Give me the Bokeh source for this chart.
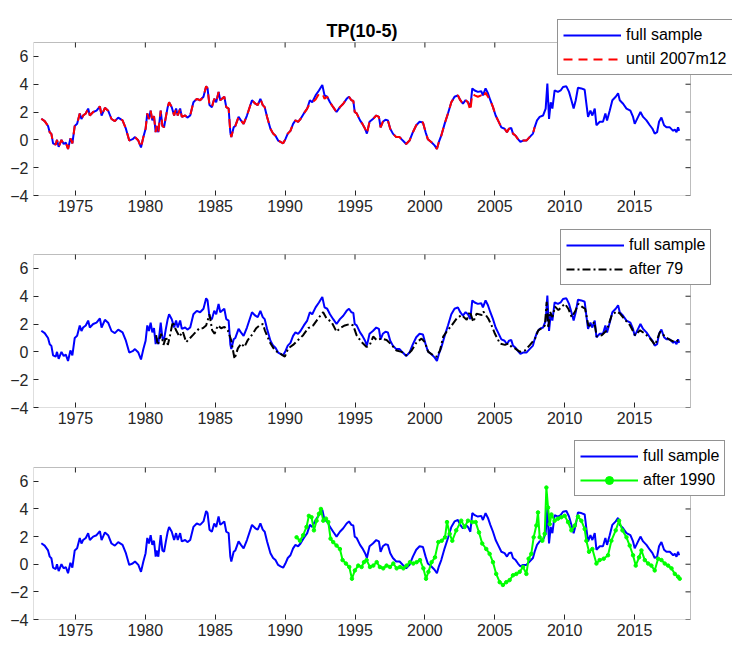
from bokeh.plotting import figure
from bokeh.models import Range1d, FixedTicker, Legend, LegendItem, BoxAnnotation, Label
from bokeh.layouts import column
from bokeh.embed import file_html
from bokeh.resources import INLINE

# ---------------- data ----------------
x_ticks = [1975, 1980, 1985, 1990, 1995, 2000, 2005, 2010, 2015]
y_ticks = [-4, -2, 0, 2, 4, 6]
X_START, X_END = 1972, 2019
Y_START, Y_END = -4, 7

full_dates = [
    1972.56, 1972.80, 1973.04, 1973.16, 1973.28, 1973.40, 1973.59, 1973.68, 1973.80, 1974.00,
    1974.16, 1974.31, 1974.47, 1974.64, 1974.78, 1974.95, 1975.12, 1975.31, 1975.43, 1975.55,
    1975.74, 1975.91, 1976.03, 1976.27, 1976.51, 1976.75, 1976.87, 1977.11, 1977.34, 1977.58,
    1977.82, 1978.06, 1978.37, 1978.61, 1978.85, 1979.09, 1979.26, 1979.50, 1979.69, 1979.86,
    1980.02, 1980.14, 1980.26, 1980.38, 1980.50, 1980.62, 1980.74, 1980.81, 1980.93, 1981.10,
    1981.22, 1981.34, 1981.46, 1981.60, 1981.70, 1981.89, 1982.06, 1982.20, 1982.32, 1982.49,
    1982.61, 1982.85, 1983.01, 1983.21, 1983.44, 1983.68, 1983.92, 1984.16, 1984.35, 1984.45,
    1984.59, 1984.76, 1984.93, 1985.07, 1985.24, 1985.36, 1985.48, 1985.65, 1985.79, 1985.96,
    1986.08, 1986.15, 1986.32, 1986.44, 1986.67, 1986.84, 1987.03, 1987.27, 1987.63, 1987.87,
    1988.04, 1988.23, 1988.40, 1988.54, 1988.71, 1988.95, 1989.14, 1989.31, 1989.50, 1989.67,
    1989.86, 1990.02, 1990.19, 1990.38, 1990.57, 1990.74, 1990.93, 1991.10, 1991.34, 1991.58,
    1991.77, 1991.94, 1992.18, 1992.42, 1992.66, 1992.82, 1993.01, 1993.21, 1993.44, 1993.68,
    1993.92, 1994.16, 1994.40, 1994.57, 1994.74, 1994.88, 1994.98, 1995.12, 1995.36, 1995.53,
    1995.72, 1995.85, 1996.04, 1996.28, 1996.52, 1996.71, 1996.83, 1996.99, 1997.18, 1997.35,
    1997.52, 1997.71, 1997.95, 1998.19, 1998.42, 1998.66, 1998.90, 1999.14, 1999.38, 1999.62,
    1999.86, 2000.05, 2000.21, 2000.45, 2000.69, 2000.86, 2001.00, 2001.17, 2001.41, 2001.65,
    2001.89, 2002.12, 2002.36, 2002.53, 2002.72, 2002.91, 2003.08, 2003.25, 2003.39, 2003.56,
    2003.79, 2004.03, 2004.15, 2004.34, 2004.51, 2004.68, 2004.87, 2005.06, 2005.23, 2005.47,
    2005.70, 2005.87, 2006.01, 2006.18, 2006.30, 2006.49, 2006.66, 2006.83, 2007.02, 2007.26,
    2007.49, 2007.73, 2007.85, 2008.02, 2008.21, 2008.45, 2008.64, 2008.76, 2008.88, 2009.00,
    2009.12, 2009.28, 2009.52, 2009.71, 2009.88, 2010.12, 2010.31, 2010.48, 2010.64, 2010.79,
    2010.95, 2011.19, 2011.43, 2011.55, 2011.67, 2011.84, 2011.98, 2012.15, 2012.27, 2012.51,
    2012.74, 2012.91, 2013.03, 2013.22, 2013.41, 2013.65, 2013.82, 2013.94, 2014.18, 2014.42,
    2014.70, 2014.89, 2015.01, 2015.25, 2015.42, 2015.61, 2015.85, 2016.09, 2016.28, 2016.44,
    2016.61, 2016.75, 2016.92, 2017.11, 2017.28, 2017.52, 2017.76, 2017.88, 2018.00, 2018.11,
    2018.19,
]
full_vals = [
    1.52, 1.35, 1.00, 0.55, 0.43, -0.25, -0.35, 0.00, -0.50, 0.00,
    -0.30, -0.20, -0.65, 0.10, -0.25, 1.00, 1.15, 1.90, 1.50, 1.75,
    1.90, 2.25, 1.75, 2.00, 2.10, 2.40, 1.75, 2.30, 2.10, 1.50,
    1.35, 1.60, 1.40, 0.80, -0.05, 0.05, 0.20, -0.05, -0.55, 0.20,
    0.80, 1.90, 1.50, 2.10, 1.40, 1.70, 0.55, 1.00, 0.55, 2.10,
    1.00, 0.90, 1.60, 2.35, 2.70, 2.35, 1.75, 2.25, 1.75, 2.25,
    1.65, 1.75, 1.60, 1.75, 2.70, 2.95, 2.85, 3.10, 3.85, 3.70,
    2.50, 2.35, 2.95, 2.70, 3.45, 2.85, 2.95, 3.10, 2.35, 2.25,
    0.55, 0.20, 0.90, 1.00, 1.65, 1.40, 1.15, 1.75, 2.85, 2.60,
    2.50, 2.95, 2.50, 2.35, 1.65, 0.80, 0.45, 0.30, -0.05, -0.15,
    -0.25, 0.05, 0.45, 0.65, 1.15, 1.40, 1.30, 1.50, 1.90, 2.25,
    2.85, 2.70, 3.20, 3.55, 3.95, 3.20, 3.10, 2.70, 2.35, 2.00,
    2.35, 2.60, 2.95, 3.10, 2.85, 2.80, 2.00, 1.90, 1.40, 1.15,
    0.80, 0.45, 1.30, 1.50, 1.75, 1.65, 0.90, 1.30, 1.45, 1.40,
    0.80, 0.45, 0.20, 0.20, -0.05, -0.30, -0.05, 0.55, 1.05, 1.30,
    1.25, 0.55, 0.05, -0.15, -0.40, -0.65, -0.15, 0.30, 1.15, 1.90,
    2.70, 3.10, 3.20, 2.85, 2.60, 2.85, 2.70, 2.35, 3.70, 3.55,
    3.45, 3.50, 3.20, 3.70, 3.35, 2.85, 2.35, 1.75, 1.40, 0.90,
    0.80, 0.55, 0.80, 0.85, 0.45, 0.30, 0.05, -0.15, -0.05, -0.05,
    0.20, 0.45, 0.90, 1.40, 1.65, 1.75, 2.25, 4.05, 1.50, 2.70,
    2.25, 3.55, 3.45, 3.55, 3.80, 3.85, 3.45, 2.85, 2.25, 2.85,
    3.75, 3.70, 3.60, 2.60, 1.65, 2.10, 1.75, 2.25, 1.05, 1.30,
    1.30, 1.90, 1.40, 2.10, 2.85, 3.10, 3.35, 2.85, 2.60, 2.25,
    2.10, 1.65, 1.15, 1.65, 2.00, 1.65, 1.40, 1.05, 0.80, 0.45,
    0.55, 1.30, 1.60, 1.05, 0.90, 0.90, 0.65, 0.75, 0.55, 0.90,
    0.65,
]

# subsample until 2007m12: same as full sample except where it visibly differs
red_end = 2007.95
red_changes = {
    1991.77: 2.60, 1992.18: 2.90, 1992.42: 3.30, 1992.66: 3.35, 1992.82: 2.95,
    2003.25: 2.10, 2003.39: 3.30, 2003.56: 3.20, 2003.79: 3.10, 2004.03: 3.20,
    2004.15: 3.00, 2004.34: 3.40, 2004.51: 3.10,
}

after79_dates = [
    1980.77, 1980.89, 1981.13, 1981.30, 1981.49, 1981.61, 1981.77, 1981.96, 1982.20, 1982.44,
    1982.68, 1982.92, 1983.16, 1983.40, 1983.63, 1983.87, 1984.11, 1984.35, 1984.59, 1984.78,
    1984.95, 1985.19, 1985.42, 1985.66, 1985.90, 1986.14, 1986.38, 1986.62, 1986.86, 1987.09,
    1987.33, 1987.69, 1987.93, 1988.17, 1988.41, 1988.55, 1988.90, 1989.26, 1989.62, 1989.98,
    1990.22, 1990.57, 1990.93, 1991.29, 1991.65, 1992.01, 1992.36, 1992.72, 1992.96, 1993.32,
    1993.68, 1993.92, 1994.27, 1994.63, 1994.87, 1995.11, 1995.47, 1995.83, 1996.06, 1996.30,
    1996.54, 1996.90, 1997.26, 1997.62, 1997.97, 1998.33, 1998.69, 1999.05, 1999.41, 1999.76,
    2000.00, 2000.24, 2000.60, 2000.84, 2001.08, 2001.31, 2001.55, 2001.91, 2002.27, 2002.63,
    2002.99, 2003.22, 2003.46, 2003.70, 2004.06, 2004.18, 2004.53, 2004.77, 2005.01, 2005.37,
    2005.73, 2005.97, 2006.21, 2006.44, 2006.80, 2007.16, 2007.52, 2007.88, 2008.11, 2008.35,
    2008.59, 2008.71, 2008.83, 2008.95, 2009.12, 2009.31, 2009.55, 2009.79, 2010.02, 2010.26,
    2010.50, 2010.74, 2010.98, 2011.22, 2011.46, 2011.69, 2011.93, 2012.12, 2012.29, 2012.65,
    2013.01, 2013.37, 2013.72, 2013.96, 2014.32, 2014.68, 2015.04, 2015.39, 2015.75, 2016.11,
    2016.47, 2016.83, 2017.18, 2017.54, 2017.90, 2018.14, 2018.19,
]
after79_vals = [
    1.20, 0.50, 1.30, 0.50, 1.10, 0.50, 1.20, 2.15, 1.55, 1.10,
    1.45, 0.70, 0.95, 1.20, 1.45, 1.70, 1.70, 1.90, 2.70, 1.55,
    1.30, 1.90, 1.70, 1.80, 1.55, 0.85, -0.50, 0.25, 0.60, 0.35,
    0.85, 1.30, 1.70, 1.90, 2.00, 1.55, 0.70, 0.10, -0.10, -0.35,
    0.25, 0.50, 0.85, 1.20, 1.70, 1.90, 2.40, 2.85, 2.40, 2.15,
    1.45, 1.70, 1.90, 2.00, 1.90, 1.20, 0.70, 0.35, 0.50, 1.10,
    0.85, 0.95, 0.85, 0.50, 0.10, 0.00, -0.25, 0.10, 0.70, 0.95,
    0.70, 0.00, -0.25, -0.35, 0.10, 1.10, 1.45, 1.90, 2.40, 2.65,
    2.30, 2.90, 2.15, 2.75, 2.65, 2.90, 2.40, 1.90, 1.30, 0.60,
    0.50, 0.60, 0.35, 0.25, 0.00, 0.10, 0.50, 0.95, 1.55, 1.70,
    1.90, 3.60, 1.70, 2.90, 2.50, 3.25, 3.00, 3.25, 3.45, 3.10,
    2.50, 2.90, 3.45, 3.25, 3.10, 1.90, 1.90, 2.15, 1.10, 1.20,
    1.55, 2.65, 2.90, 2.75, 2.30, 1.90, 1.20, 1.55, 1.30, 0.95,
    0.50, 1.45, 1.10, 0.85, 0.70, 0.85, 0.70,
]

after90_dates = [
    1990.82, 1991.06, 1991.29, 1991.53, 1991.70, 1991.89, 1992.06, 1992.25, 1992.42, 1992.56,
    1992.73, 1992.92, 1993.09, 1993.25, 1993.44, 1993.68, 1993.92, 1994.11, 1994.35, 1994.59,
    1994.78, 1994.99, 1995.23, 1995.47, 1995.64, 1995.83, 1996.07, 1996.31, 1996.55, 1996.78,
    1997.02, 1997.26, 1997.50, 1997.74, 1997.98, 1998.22, 1998.46, 1998.69, 1998.93, 1999.17,
    1999.41, 1999.65, 1999.89, 2000.08, 2000.25, 2000.48, 2000.72, 2000.96, 2001.20, 2001.44,
    2001.58, 2001.77, 2001.96, 2002.24, 2002.60, 2002.84, 2003.08, 2003.39, 2003.63, 2003.87,
    2004.10, 2004.39, 2004.63, 2004.87, 2005.10, 2005.35, 2005.58, 2005.82, 2006.06, 2006.30,
    2006.54, 2006.78, 2007.02, 2007.26, 2007.42, 2007.61, 2007.78, 2007.97, 2008.09, 2008.21,
    2008.40, 2008.57, 2008.69, 2008.81, 2008.93, 2009.05, 2009.28, 2009.52, 2009.76, 2010.00,
    2010.24, 2010.48, 2010.72, 2010.95, 2011.19, 2011.43, 2011.55, 2011.74, 2011.98, 2012.27,
    2012.50, 2012.79, 2013.10, 2013.34, 2013.65, 2013.89, 2014.13, 2014.42, 2014.65, 2014.89,
    2015.08, 2015.32, 2015.49, 2015.73, 2015.97, 2016.20, 2016.44, 2016.68, 2016.92, 2017.16,
    2017.40, 2017.64, 2017.88, 2018.11, 2018.23,
]
after90_vals = [
    1.95, 1.70, 2.10, 2.70, 3.50, 3.40, 2.45, 3.15, 3.65, 4.00,
    3.15, 3.30, 3.05, 1.85, 1.60, 1.35, 1.10, 0.30, 0.05, -0.20,
    -1.05, -0.45, -0.10, -0.20, 0.15, 0.30, -0.20, -0.10, 0.15, -0.20,
    -0.30, -0.10, -0.20, 0.05, -0.30, -0.20, -0.30, -0.10, 0.15, 0.05,
    0.15, 0.30, -0.30, -1.05, -0.55, 0.15, 0.50, 1.60, 1.70, 1.95,
    3.05, 2.20, 1.70, 2.45, 3.15, 2.70, 3.15, 3.05, 3.05, 2.30,
    1.50, 1.10, 0.75, 0.15, -0.70, -1.30, -1.50, -1.30, -1.15, -0.80,
    -0.70, -0.55, -0.20, -0.70, 0.40, 0.75, 1.95, 2.80, 3.75, 1.95,
    1.70, 2.20, 5.55, 4.10, 2.90, 3.60, 3.15, 3.30, 3.40, 3.50,
    3.05, 2.45, 2.80, 3.45, 3.15, 2.55, 1.70, 0.90, 1.10, 0.05,
    0.30, 0.40, 0.65, 1.70, 2.45, 3.15, 2.45, 1.95, 1.35, 0.65,
    -0.10, 0.50, 1.00, 0.30, 0.05, -0.10, -0.45, 0.40, 0.30, 0.05,
    -0.10, -0.30, -0.70, -0.90, -1.05,
]

red_dates = [d for d in full_dates if d <= red_end]
red_vals = [red_changes.get(d, v) for d, v in zip(full_dates, full_vals) if d <= red_end]

# ---------------- styling / layout ----------------
FONT = "Liberation Sans"
GREY = "#262626"
BLUE = "#0000FF"
RED = "#FF0000"
BLACK = "#000000"
GREEN = "#00FF00"
FIG_W = 732
BOX_LEFT = 33      # left edge of the MATLAB-style axes box (px)
BOX_W = 657        # width of the axes box (px)
RIGHT_ROOM = 42    # room right of the box, used by the legends (px)
TICK_LEN = 5       # inward tick length (px)


def make_fig(fig_h, frame_top, box_gap, box_h, standoff=4):
    """The plotting frame is larger than the axes box (up and right) so the
    legends, which in the original stick out of the box, are not clipped."""
    border_bottom = fig_h - frame_top - box_gap - box_h
    x_per_px = (X_END - X_START) / BOX_W
    y_per_px = (Y_END - Y_START) / box_h
    p = figure(width=FIG_W, height=fig_h,
               x_range=Range1d(X_START, X_END + RIGHT_ROOM * x_per_px),
               y_range=Range1d(Y_START, Y_END + box_gap * y_per_px),
               output_backend="svg", toolbar_location=None,
               min_border_left=BOX_LEFT, min_border_right=FIG_W - BOX_LEFT - BOX_W - RIGHT_ROOM,
               min_border_top=frame_top, min_border_bottom=border_bottom)
    p.xgrid.visible = False
    p.ygrid.visible = False
    p.outline_line_color = None
    p.background_fill_color = "white"
    p.border_fill_color = "white"
    for ax, ticks, so in ((p.xaxis[0], x_ticks, standoff), (p.yaxis[0], y_ticks, 5)):
        ax.ticker = FixedTicker(ticks=ticks)
        ax.major_tick_in = TICK_LEN
        ax.major_tick_out = 0
        ax.minor_tick_line_color = None
        ax.major_tick_line_color = GREY
        ax.axis_line_color = None
        ax.major_label_text_font = FONT
        ax.major_label_text_font_size = "16px"
        ax.major_label_text_color = GREY
        ax.major_label_standoff = so
    # axes box
    p.add_layout(BoxAnnotation(left=X_START, right=X_END, bottom=Y_START, top=Y_END,
                               fill_color=None, line_color=GREY, line_width=1))
    # mirrored inward ticks on the top and right edges of the box
    p.segment(x0=x_ticks, y0=[Y_END] * len(x_ticks), x1=x_ticks,
              y1=[Y_END - TICK_LEN * y_per_px] * len(x_ticks), line_color=GREY, line_width=1)
    p.segment(x0=[X_END] * len(y_ticks), y0=y_ticks, x1=[X_END - TICK_LEN * x_per_px] * len(y_ticks),
              y1=y_ticks, line_color=GREY, line_width=1)
    return p


def add_legend(p, items, loc):
    leg = Legend(items=items, location=loc)
    leg.label_text_font = FONT
    leg.label_text_font_size = "16px"
    leg.label_text_color = BLACK
    leg.border_line_color = GREY
    leg.border_line_width = 1
    leg.background_fill_color = "white"
    leg.background_fill_alpha = 1.0
    leg.glyph_width = 58
    leg.glyph_height = 20
    leg.label_height = 20
    leg.label_standoff = 5
    leg.padding = 5
    leg.spacing = 4
    leg.margin = 0
    p.add_layout(leg)


# ---- panel 1 ----
p1 = make_fig(226, 12, 30, 153)
p1.add_layout(Label(x=(X_START + X_END) / 2, y=Y_END, y_offset=12, text="TP(10-5)",
                    text_align="center", text_baseline="alphabetic",
                    text_font=FONT, text_font_size="18px", text_font_style="bold",
                    text_color=BLACK))
b1 = p1.line(full_dates, full_vals, line_color=BLUE, line_width=2)
r1 = p1.line(red_dates, red_vals, line_color=RED, line_width=2, line_dash="9 6")
add_legend(p1, [LegendItem(label="full sample", renderers=[b1]),
                LegendItem(label="until 2007m12", renderers=[r1])], (524, 120))

# ---- panel 2 ----
p2 = make_fig(210, 3, 25, 153)
b2 = p2.line(full_dates, full_vals, line_color=BLUE, line_width=2)
k2 = p2.line(after79_dates, after79_vals, line_color=BLACK, line_width=2, line_dash="8 3 2 3")
add_legend(p2, [LegendItem(label="full sample", renderers=[b2]),
                LegendItem(label="after 79", renderers=[k2])], (527, 122))

# ---- panel 3 ----
p3 = make_fig(210, 4, 27, 152)
b3 = p3.line(full_dates, full_vals, line_color=BLUE, line_width=2)
g3 = p3.line(after90_dates, after90_vals, line_color=GREEN, line_width=2)
g3m = p3.scatter(after90_dates, after90_vals, size=3.5, fill_color=GREEN, line_color=GREEN, line_width=1)
add_legend(p3, [LegendItem(label="full sample", renderers=[b3]),
                LegendItem(label="after 1990", renderers=[g3, g3m])], (541, 123))

layout = column(p1, p2, p3, spacing=0)
open("out.html", "w").write(file_html(layout, INLINE))
